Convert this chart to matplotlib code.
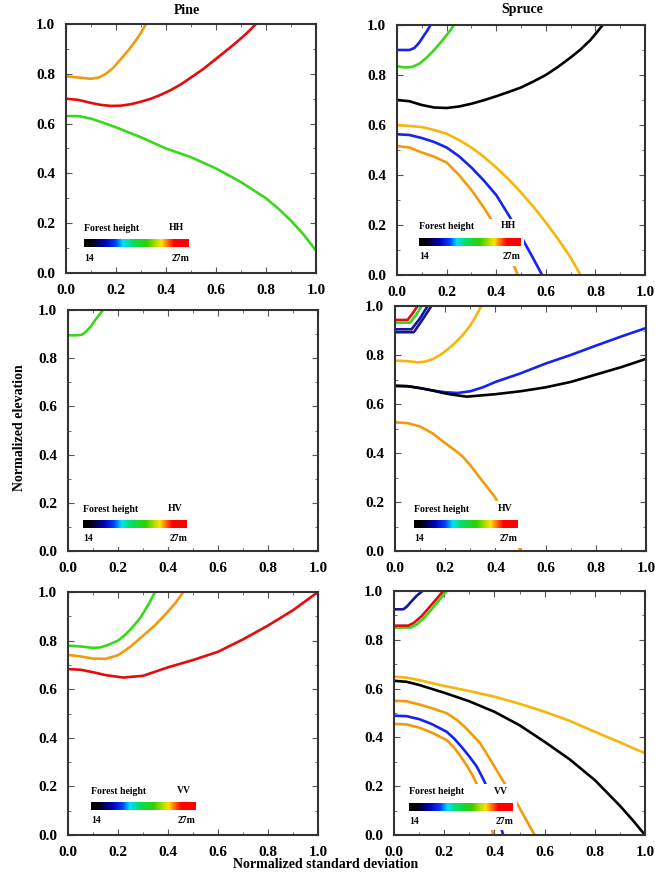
import matplotlib.pyplot as plt
import numpy as np
from matplotlib.colors import LinearSegmentedColormap
from matplotlib.patches import Rectangle
from matplotlib.ticker import MultipleLocator

plt.rcParams['font.family'] = ['Liberation Serif', 'DejaVu Serif']
plt.rcParams['font.weight'] = 'bold'

# curves: name -> (x, y)
pine_hh = {
    'orange': ([0, 0.05, 0.1, 0.13, 0.16, 0.19, 0.22, 0.25, 0.28, 0.3, 0.32],
               [0.79, 0.785, 0.78, 0.785, 0.80, 0.825, 0.86, 0.895, 0.935, 0.965, 1.0]),
    'red': ([0, 0.05, 0.1, 0.14, 0.18, 0.22, 0.26, 0.3, 0.34, 0.38, 0.42, 0.46, 0.5, 0.55,
             0.6, 0.64, 0.68, 0.72, 0.76],
            [0.70, 0.695, 0.683, 0.675, 0.671, 0.672, 0.678, 0.688, 0.70, 0.716, 0.735, 0.758,
             0.785, 0.82, 0.86, 0.892, 0.925, 0.96, 1.0]),
    'green': ([0, 0.05, 0.1, 0.15, 0.2, 0.3, 0.4, 0.5, 0.6, 0.7, 0.8, 0.85, 0.9, 0.95, 1.0],
              [0.63, 0.63, 0.62, 0.603, 0.585, 0.545, 0.50, 0.465, 0.42, 0.365, 0.30, 0.258,
               0.21, 0.155, 0.09]),
}
spruce_hh = {
    'blue': ([0, 0.05, 0.07, 0.09, 0.11, 0.125, 0.135],
             [0.90, 0.90, 0.908, 0.93, 0.96, 0.982, 1.0]),
    'green': ([0, 0.03, 0.06, 0.09, 0.12, 0.15, 0.18, 0.21, 0.23],
              [0.835, 0.83, 0.832, 0.845, 0.87, 0.9, 0.935, 0.972, 1.0]),
    'black': ([0, 0.05, 0.1, 0.15, 0.2, 0.25, 0.3, 0.35, 0.4, 0.45, 0.5, 0.55, 0.6, 0.65,
               0.7, 0.74, 0.78, 0.83],
              [0.70, 0.695, 0.68, 0.67, 0.668, 0.674, 0.685, 0.699, 0.715, 0.732, 0.75, 0.774,
               0.80, 0.833, 0.87, 0.902, 0.94, 1.0]),
    'gold': ([0, 0.1, 0.15, 0.2, 0.25, 0.3, 0.35, 0.4, 0.45, 0.5, 0.55, 0.6, 0.65, 0.7, 0.74],
             [0.60, 0.592, 0.58, 0.565, 0.54, 0.51, 0.473, 0.43, 0.383, 0.33, 0.273, 0.21,
              0.143, 0.07, 0.0]),
    'blue2': ([0, 0.05, 0.1, 0.15, 0.2, 0.25, 0.3, 0.35, 0.4, 0.45, 0.5, 0.55, 0.585],
              [0.563, 0.56, 0.548, 0.532, 0.51, 0.475, 0.43, 0.378, 0.32, 0.24, 0.155, 0.065, 0.0]),
    'orange': ([0, 0.05, 0.1, 0.15, 0.2, 0.25, 0.3, 0.35, 0.4, 0.45, 0.487],
               [0.516, 0.51, 0.49, 0.473, 0.45, 0.40, 0.34, 0.27, 0.19, 0.09, 0.0]),
}
pine_hv = {
    'green': ([0, 0.03, 0.055, 0.07, 0.09, 0.11, 0.125, 0.14],
              [0.895, 0.895, 0.897, 0.908, 0.93, 0.96, 0.98, 1.0]),
}
spruce_hv = {
    'red': ([0, 0.05, 0.07, 0.09], [0.943, 0.943, 0.97, 1.0]),
    'green': ([0, 0.06, 0.085, 0.106], [0.932, 0.932, 0.965, 1.0]),
    'navy': ([0, 0.066, 0.1, 0.13], [0.905, 0.905, 0.95, 1.0]),
    'navy2': ([0, 0.075, 0.11, 0.145], [0.893, 0.893, 0.945, 1.0]),
    'gold': ([0, 0.05, 0.09, 0.12, 0.15, 0.18, 0.21, 0.24, 0.27, 0.3, 0.32, 0.344],
             [0.777, 0.775, 0.77, 0.773, 0.783, 0.80, 0.823, 0.85, 0.882, 0.92, 0.955, 1.0]),
    'blue': ([0, 0.05, 0.1, 0.15, 0.2, 0.25, 0.3, 0.35, 0.4, 0.5, 0.6, 0.7, 0.8, 0.9, 1.0],
             [0.673, 0.672, 0.665, 0.655, 0.648, 0.645, 0.652, 0.668, 0.69, 0.725, 0.765, 0.80,
              0.838, 0.875, 0.91]),
    'black': ([0, 0.05, 0.1, 0.15, 0.2, 0.25, 0.286, 0.4, 0.5, 0.6, 0.7, 0.8, 0.9, 1.0],
              [0.675, 0.673, 0.665, 0.655, 0.643, 0.635, 0.63, 0.64, 0.652, 0.668, 0.69, 0.72,
               0.75, 0.784]),
    'orange': ([0, 0.05, 0.1, 0.15, 0.2, 0.24, 0.27, 0.3, 0.33, 0.36, 0.397, 0.45, 0.5],
               [0.525, 0.522, 0.508, 0.48, 0.44, 0.41, 0.385, 0.35, 0.31, 0.27, 0.222, 0.12, 0.0]),
}
pine_vv = {
    'green': ([0, 0.05, 0.1, 0.13, 0.16, 0.2, 0.23, 0.26, 0.29, 0.32, 0.348],
              [0.779, 0.776, 0.77, 0.772, 0.782, 0.8, 0.825, 0.857, 0.895, 0.945, 1.0]),
    'orange': ([0, 0.05, 0.1, 0.15, 0.2, 0.25, 0.3, 0.35, 0.4, 0.43, 0.461],
               [0.741, 0.735, 0.726, 0.725, 0.74, 0.775, 0.82, 0.865, 0.92, 0.955, 1.0]),
    'red': ([0, 0.05, 0.1, 0.15, 0.22, 0.3, 0.4, 0.5, 0.6, 0.7, 0.8, 0.9, 1.0],
            [0.683, 0.68, 0.67, 0.658, 0.648, 0.655, 0.69, 0.72, 0.754, 0.805, 0.862, 0.925, 1.0]),
}
spruce_vv = {
    'navy': ([0, 0.037, 0.05, 0.07, 0.09, 0.113], [0.925, 0.925, 0.935, 0.958, 0.98, 1.0]),
    'green': ([0, 0.065, 0.09, 0.12, 0.15, 0.18, 0.21],
              [0.85, 0.85, 0.862, 0.89, 0.925, 0.962, 1.0]),
    'red': ([0, 0.057, 0.08, 0.11, 0.14, 0.17, 0.196],
            [0.858, 0.858, 0.87, 0.897, 0.932, 0.968, 1.0]),
    'gold': ([0, 0.05, 0.1, 0.2, 0.3, 0.4, 0.5, 0.6, 0.7, 0.8, 0.9, 1.0],
             [0.649, 0.645, 0.635, 0.611, 0.59, 0.567, 0.538, 0.505, 0.468, 0.423, 0.38, 0.335]),
    'black': ([0, 0.05, 0.1, 0.2, 0.3, 0.4, 0.5, 0.6, 0.7, 0.8, 0.9, 0.95, 1.0],
              [0.632, 0.628, 0.615, 0.583, 0.548, 0.505, 0.45, 0.382, 0.31, 0.225, 0.12, 0.062, 0.0]),
    'orange': ([0, 0.05, 0.1, 0.15, 0.21, 0.25, 0.28, 0.31, 0.343, 0.38, 0.42, 0.49, 0.56],
               [0.55, 0.548, 0.535, 0.52, 0.499, 0.472, 0.445, 0.413, 0.376, 0.315, 0.246, 0.13, 0.0]),
    'blue': ([0, 0.05, 0.1, 0.15, 0.21, 0.24, 0.27, 0.3, 0.33, 0.36, 0.38, 0.41, 0.435],
             [0.489, 0.487, 0.475, 0.455, 0.423, 0.395, 0.36, 0.322, 0.28, 0.22, 0.17, 0.09, 0.0]),
    'orange2': ([0, 0.05, 0.1, 0.15, 0.21, 0.24, 0.26, 0.29, 0.316, 0.34, 0.36, 0.38, 0.395],
                [0.455, 0.453, 0.44, 0.42, 0.389, 0.357, 0.33, 0.285, 0.239, 0.185, 0.13, 0.07, 0.0]),
}

panels = [pine_hh, spruce_hh, pine_hv, spruce_hv, pine_vv, spruce_vv]
pols = ['HH', 'HH', 'HV', 'HV', 'VV', 'VV']
ticks = [0.0, 0.2, 0.4, 0.6, 0.8, 1.0]

colors = {'orange': '#f39a0c', 'gold': '#f6b60a', 'red': '#e40c0c', 'green': '#3ad81a',
          'black': '#000000', 'blue': '#1424ee', 'navy': '#16169a'}

# axes rectangles in pixels: left, top, right, bottom
rects = [(66, 24, 316, 273), (397, 25, 645, 275),
         (68, 310, 318, 551), (395, 306, 646, 551),
         (68, 592, 318, 835), (394, 591, 645, 835)]
# colour bar legend: left, bottom, width (axes fraction)
leg = [(0.072, 0.103, 0.42), (0.089, 0.116, 0.41),
       (0.060, 0.095, 0.416), (0.075, 0.093, 0.413),
       (0.092, 0.103, 0.418), (0.061, 0.100, 0.414)]

jet = LinearSegmentedColormap.from_list('fh', [
    (0, 'black'), (0.06, 'black'), (0.2, '#0000b8'), (0.3, '#0040ff'), (0.37, '#00e0ff'),
    (0.45, '#00e070'), (0.6, '#30d000'), (0.7, '#c8e000'), (0.74, '#ffe000'),
    (0.8, '#ff6a00'), (0.86, '#ff0000'), (1, '#ff0000')])

W, H = 655, 873
fig = plt.figure(figsize=(W / 100, H / 100), dpi=100)

for i, data in enumerate(panels):
    l, t, r, b = rects[i]
    ax = fig.add_axes([l / W, 1 - b / H, (r - l) / W, (b - t) / H])
    for name, (xs, ys) in data.items():
        ax.plot(xs, ys, color=colors[name.rstrip('0123456789')], lw=1.9, zorder=2)
    ax.set_xlim(0, 1)
    ax.set_ylim(0, 1)
    ax.set_xticks(ticks)
    ax.set_yticks(ticks)
    ax.set_xticklabels(['%.1f' % v for v in ticks])
    ax.set_yticklabels(['%.1f' % v for v in ticks])
    ax.xaxis.set_minor_locator(MultipleLocator(0.1))
    ax.yaxis.set_minor_locator(MultipleLocator(0.1))
    ax.tick_params(which='both', direction='in', top=True, right=True, color='#555555')
    ax.tick_params(which='major', length=4, labelsize=11, pad=8)
    ax.tick_params(which='minor', length=2.5)
    for s in ax.spines.values():
        s.set_linewidth(1.5)
        s.set_color('#333333')

    # colour bar legend with a white backing that hides the curves behind it
    x0, y0, w = leg[i]
    ax.add_patch(Rectangle((x0 - 0.015, y0 - 0.08), w + 0.03, 0.19, transform=ax.transAxes,
                           facecolor='white', edgecolor='none', zorder=3))
    ax.text(x0, y0 + 0.077, 'Forest height', transform=ax.transAxes, fontsize=7,
            va='center', ha='left', zorder=4)
    ax.text(x0 + w - 0.02, y0 + 0.08, pols[i], transform=ax.transAxes, fontsize=7,
            va='center', ha='right', zorder=4)
    ax.text(x0, y0 - 0.043, '14', transform=ax.transAxes, fontsize=7,
            va='center', ha='left', zorder=4)
    ax.text(x0 + w, y0 - 0.043, '27m', transform=ax.transAxes, fontsize=7,
            va='center', ha='right', zorder=4)
    cax = ax.inset_axes([x0, y0, w, 0.032])
    cax.imshow(np.linspace(0, 1, 256)[None, :], cmap=jet, aspect='auto')
    cax.axis('off')

fig.text(187 / W, 1 - 10 / H, 'Pine', ha='center', va='center', fontsize=10)
fig.text(522 / W, 1 - 9 / H, 'Spruce', ha='center', va='center', fontsize=10)
fig.text(20 / W, 1 - 428 / H, 'Normalized elevation', rotation=90,
         ha='center', va='center', fontsize=10)
fig.text(326 / W, 1 - 858 / H, 'Normalized standard deviation',
         ha='center', va='top', fontsize=10)

fig.savefig('out.png', dpi=100)
